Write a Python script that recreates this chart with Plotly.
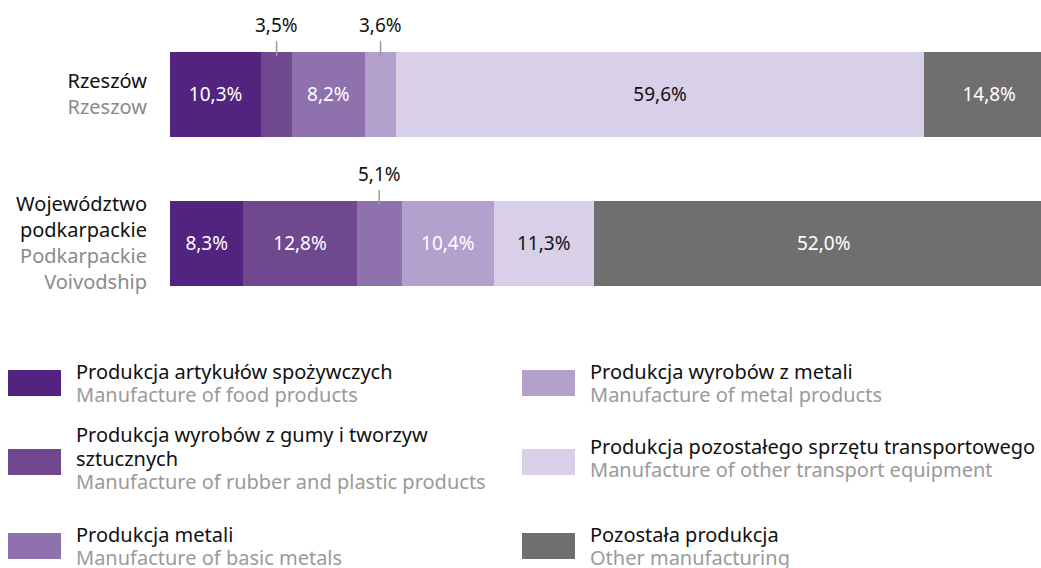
import plotly.graph_objects as go

# ---- data ----
categories = ["Rzeszów", "Województwo podkarpackie"]
category_labels_pl = ["Rzeszów", "Województwo<br>podkarpackie"]
category_labels_en = ["Rzeszow", "Podkarpackie<br>Voivodship"]

series_pl = [
    "Produkcja artykułów spożywczych",
    "Produkcja wyrobów z gumy i tworzyw|sztucznych",
    "Produkcja metali",
    "Produkcja wyrobów z metali",
    "Produkcja pozostałego sprzętu transportowego",
    "Pozostała produkcja",
]
series_en = [
    "Manufacture of food products",
    "Manufacture of rubber and plastic products",
    "Manufacture of basic metals",
    "Manufacture of metal products",
    "Manufacture of other transport equipment",
    "Other manufacturing",
]
food = [10.3, 8.3]
rubber = [3.5, 12.8]
basic_metals = [8.2, 5.1]
metal_products = [3.6, 10.4]
transport = [59.6, 11.3]
other = [14.8, 52.0]
series_values = [food, rubber, basic_metals, metal_products, transport, other]

# ---- styling ----
colors = ["#52247f", "#70488f", "#8e71ad", "#b3a0cc", "#d8d0e8", "#6f6f6f"]
text_colors = ["white", "white", "white", "white", "#111111", "white"]
FONT = "Noto Sans"
W, H = 1041, 568
X0 = 170  # left edge of plot area (px)
OUTSIDE_LIMIT = 6.0
BAR_W = 0.57
PX_PER_UNIT = 149.0

def fmt(v):
    return f"{v:.1f}".replace(".", ",") + "%"

fig = go.Figure()
for i, (name, vals) in enumerate(zip(series_pl, series_values)):
    fig.add_trace(go.Bar(
        y=categories, x=vals, orientation="h", name=name.replace("|", " "),
        marker=dict(color=colors[i], line=dict(width=0)),
        width=BAR_W,
        text=[fmt(v) if v >= OUTSIDE_LIMIT else "" for v in vals],
        textposition="inside", insidetextanchor="middle",
        textfont=dict(family=FONT, size=19, color=text_colors[i]),
        constraintext="none",
        hoverinfo="skip", showlegend=False,
    ))

# outside labels with leader lines for small segments
for ci, cat in enumerate(categories):
    cum = 0.0
    for si, vals in enumerate(series_values):
        v = vals[ci]
        mid = cum + v / 2
        cum += v
        if v < OUTSIDE_LIMIT:
            top = ci - BAR_W / 2
            fig.add_shape(type="line", xref="x", yref="y",
                          x0=mid, x1=mid,
                          y0=top - 11 / PX_PER_UNIT, y1=top + 4 / PX_PER_UNIT,
                          line=dict(color="#9a9a9a", width=1.5))
            fig.add_annotation(x=mid, y=top - 27 / PX_PER_UNIT, xref="x", yref="y",
                               text=fmt(v), showarrow=False,
                               font=dict(family=FONT, size=19, color="#111111"))

# legend drawn as boxes + text lines in pixel-based paper coords
leg_cols_x = [8, 522]
leg_box_cy = [383, 462, 546]
LINE_H = 23.5
for k in range(6):
    col, row = divmod(k, 3)
    bx = leg_cols_x[col]
    cy = leg_box_cy[row]
    fig.add_shape(type="rect", xref="paper", yref="paper",
                  x0=bx / W, x1=(bx + 53) / W,
                  y0=1 - (cy - 13) / H, y1=1 - (cy + 13) / H,
                  fillcolor=colors[k], line=dict(width=0))
    lines = [(t, "#111111") for t in series_pl[k].split("|")] + [(series_en[k], "#9a9a9a")]
    n = len(lines)
    text_center = cy - 4 if row == 1 else cy
    for j, (t, c) in enumerate(lines):
        ly = text_center + (j - (n - 1) / 2) * LINE_H
        fig.add_annotation(xref="paper", yref="paper",
                           x=(bx + 66) / W, y=1 - ly / H,
                           xanchor="left", yanchor="middle", align="left",
                           showarrow=False, text=t,
                           font=dict(family=FONT, size=20, color=c))

ticktext = [f"{pl}<br><span style='color:#8a8a8a'>{en}</span>"
            for pl, en in zip(category_labels_pl, category_labels_en)]

y_top = -94.4 / PX_PER_UNIT
y_bot = y_top + H / PX_PER_UNIT

fig.update_layout(
    width=W, height=H, barmode="stack",
    margin=dict(l=0, r=0, t=0, b=0),
    paper_bgcolor="white", plot_bgcolor="white",
    font=dict(family=FONT, color="#111111"),
    xaxis=dict(domain=[X0 / W, 1], range=[0, 98.46], visible=False, fixedrange=True),
    yaxis=dict(domain=[0, 1], range=[y_bot, y_top], tickvals=categories, ticktext=ticktext,
               showgrid=False, zeroline=False, showline=False, ticks="",
               ticklabelstandoff=22,
               tickfont=dict(family=FONT, size=20, color="#111111"), fixedrange=True),
)

fig.write_html("out.html",
               config={"displayModeBar": False},
               post_script="document.body.style.margin='0px';document.body.style.overflow='hidden';")
